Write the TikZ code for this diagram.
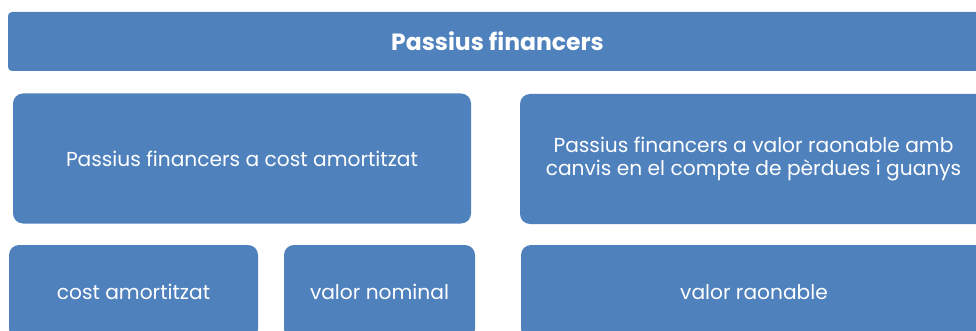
\documentclass[tikz,border=0pt]{standalone}
\usepackage{fontspec}
\setmainfont{Poppins}
\definecolor{boxblue}{HTML}{4F81BD}
\begin{document}
\begin{tikzpicture}[x=1pt,y=-1pt,
  box/.style={fill=boxblue, draw=none, rectangle, rounded corners=10pt, inner sep=0pt, text=white, align=center, font=\fontsize{20.2}{22.5}\selectfont},
  titlebox/.style={box, rounded corners=4pt, font=\fontsize{23.5}{26}\selectfont\bfseries}]
\useasboundingbox (0,0) rectangle (976,331);
\clip (0,0) rectangle (976,331);
\node[titlebox, minimum width=979pt, minimum height=59pt] (title) at (497.5,41.5) {Passius financers};
\node[box, minimum width=458pt, minimum height=130pt] (amort) at (242,158.5) {Passius financers a cost amortitzat};
\node[box, minimum width=467pt, minimum height=130pt] (raon) at (753.5,159) {Passius financers a valor raonable amb\\canvis en el compte de pèrdues i guanys};
\node[box, minimum width=249pt, minimum height=94pt] (costam) at (133.5,292) {cost amortitzat};
\node[box, minimum width=191pt, minimum height=94pt] (valnom) at (379.5,292) {valor nominal};
\node[box, minimum width=466pt, minimum height=94pt] (valraon) at (754,292) {valor raonable};
\end{tikzpicture}
\end{document}
